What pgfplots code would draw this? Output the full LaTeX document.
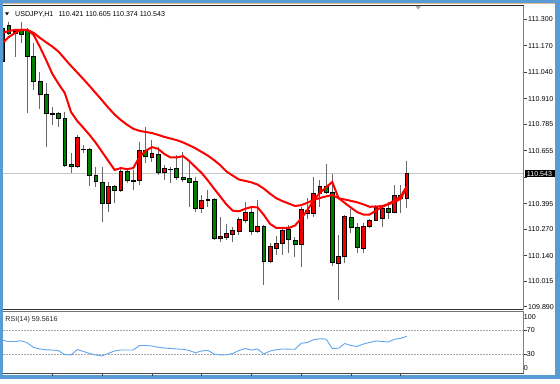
\documentclass[border=0pt]{standalone}
\usepackage{pgfplots}
\usepackage{pgfplotstable}
\pgfplotsset{compat=1.18}
\usepgfplotslibrary{statistics}
\usepackage{fontspec}
\setmainfont{Liberation Sans}
\definecolor{frameblue}{RGB}{91,155,213}
\definecolor{upcol}{RGB}{240,0,0}
\definecolor{dncol}{RGB}{0,128,0}
\definecolor{wick}{RGB}{105,105,105}
\definecolor{malinecol}{RGB}{255,0,0}
\definecolor{rsiblue}{RGB}{95,165,240}
\newcommand{\sz}{\fontsize{7.1bp}{8bp}\selectfont}

% USDJPY H1 candles: index, open, high, low, close
\pgfplotstableread{
i O H L C
0 111.092 111.257 111.090 111.256
1 111.272 111.289 111.223 111.233
2 111.243 111.250 111.116 111.233
3 111.247 111.288 111.182 111.228
4 111.247 111.255 110.839 111.120
5 111.120 111.182 110.953 110.994
6 110.994 111.043 110.858 110.933
7 110.933 110.989 110.672 110.839
8 110.838 110.871 110.781 110.835
9 110.839 110.847 110.773 110.814
10 110.814 110.847 110.577 110.585
11 110.590 110.642 110.547 110.577
12 110.577 110.732 110.569 110.721
13 110.664 110.683 110.642 110.661
14 110.662 110.667 110.482 110.536
15 110.533 110.577 110.479 110.503
16 110.498 110.577 110.307 110.397
17 110.397 110.503 110.356 110.479
18 110.479 110.487 110.397 110.462
19 110.462 110.577 110.454 110.556
20 110.556 110.564 110.495 110.508
21 110.509 110.561 110.462 110.507
22 110.511 110.699 110.487 110.655
23 110.659 110.773 110.593 110.626
24 110.623 110.708 110.601 110.642
25 110.639 110.675 110.536 110.547
26 110.547 110.585 110.511 110.569
27 110.565 110.577 110.495 110.563
28 110.569 110.634 110.511 110.525
29 110.525 110.650 110.503 110.515
30 110.518 110.610 110.380 110.502
31 110.503 110.528 110.356 110.373
32 110.373 110.438 110.351 110.410
33 110.411 110.462 110.380 110.417
34 110.418 110.422 110.217 110.225
35 110.225 110.328 110.209 110.237
36 110.230 110.296 110.217 110.250
37 110.246 110.282 110.209 110.263
38 110.258 110.331 110.242 110.320
39 110.312 110.405 110.299 110.351
40 110.353 110.384 110.242 110.258
41 110.258 110.413 110.255 110.286
42 110.286 110.291 109.996 110.111
43 110.111 110.201 110.103 110.184
44 110.176 110.237 110.143 110.201
45 110.201 110.282 110.143 110.263
46 110.270 110.291 110.152 110.220
47 110.213 110.233 110.135 110.197
48 110.197 110.380 110.086 110.368
49 110.348 110.422 110.319 110.364
50 110.348 110.525 110.331 110.446
51 110.446 110.511 110.380 110.482
52 110.482 110.590 110.446 110.449
53 110.449 110.541 110.091 110.108
54 110.103 110.242 109.923 110.135
55 110.135 110.340 110.103 110.331
56 110.328 110.368 110.250 110.279
57 110.279 110.299 110.152 110.181
58 110.176 110.302 110.155 110.286
59 110.286 110.319 110.274 110.312
60 110.315 110.389 110.312 110.380
61 110.324 110.384 110.282 110.373
62 110.371 110.405 110.319 110.354
63 110.351 110.487 110.351 110.438
64 110.438 110.487 110.348 110.422
65 110.421 110.605 110.374 110.543
}\candles

% moving averages
\pgfplotstableread{
i fast slow
0 111.184 111.233
1 111.213 111.243
2 111.233 111.248
3 111.248 111.248
4 111.248 111.248
5 111.223 111.233
6 111.164 111.209
7 111.100 111.187
8 111.032 111.166
9 110.983 111.141
10 110.938 111.106
11 110.845 111.071
12 110.801 111.039
13 110.767 111.006
14 110.732 110.972
15 110.693 110.937
16 110.649 110.902
17 110.605 110.866
18 110.561 110.833
19 110.570 110.806
20 110.565 110.783
21 110.570 110.763
22 110.624 110.753
23 110.654 110.747
24 110.673 110.742
25 110.664 110.733
26 110.639 110.723
27 110.622 110.715
28 110.622 110.707
29 110.629 110.696
30 110.605 110.682
31 110.575 110.667
32 110.546 110.649
33 110.509 110.631
34 110.469 110.609
35 110.430 110.584
36 110.391 110.553
37 110.361 110.533
38 110.358 110.514
39 110.370 110.507
40 110.379 110.500
41 110.377 110.489
42 110.340 110.469
43 110.296 110.444
44 110.276 110.422
45 110.276 110.408
46 110.276 110.396
47 110.288 110.384
48 110.323 110.388
49 110.364 110.400
50 110.413 110.414
51 110.447 110.423
52 110.476 110.431
53 110.502 110.438
54 110.423 110.422
55 110.399 110.416
56 110.376 110.409
57 110.354 110.402
58 110.342 110.392
59 110.342 110.380
60 110.361 110.381
61 110.379 110.384
62 110.394 110.392
63 110.411 110.403
64 110.431 110.419
65 110.482 110.477
}\mas

% RSI(14)
\pgfplotstableread{
i r
0 53.0
1 51.0
2 51.0
3 52.3
4 48.6
5 41.2
6 38.7
7 37.4
8 37.0
9 35.9
10 29.6
11 28.8
12 37.9
13 34.6
14 31.3
15 28.8
16 27.2
17 31.6
18 35.4
19 37.0
20 37.0
21 37.0
22 44.4
23 44.4
24 43.6
25 41.6
26 40.3
27 39.5
28 38.7
29 38.2
30 36.2
31 32.6
32 35.4
33 36.5
34 30.5
35 28.8
36 29.3
37 31.3
38 36.2
39 39.5
40 37.0
41 38.7
42 30.5
43 35.4
44 37.5
45 38.7
46 38.4
47 38.2
48 48.1
49 49.4
50 54.0
51 55.5
52 55.1
53 39.5
54 40.0
55 47.7
56 44.4
57 42.8
58 46.9
59 49.4
60 51.9
61 51.0
62 50.2
63 54.7
64 56.3
65 59.56
}\rsidata

\begin{document}
\begin{tikzpicture}[x=1bp,y=1bp]
\fill[frameblue] (0,0) rectangle (560,379);
\fill[white] (2.7,4) rectangle (555,375.5);
\draw[line width=0.6bp, color={rgb,255:red,214;green,190;blue,150}] (2.7,375.2) -- (555,375.2);

% ---------- main price panel ----------
\begin{axis}[
  at={(3bp,69.5bp)}, anchor=south west, scale only axis,
  width=520.5bp, height=303.8bp,
  xmin=0.064, xmax=83.746, ymin=109.8761, ymax=111.3667,
  enlargelimits=false,
  axis line style={draw=none},
  clip mode=individual,
  xtick=\empty,
  ytick={109.890,110.015,110.140,110.270,110.395,110.525,110.655,110.785,110.910,111.040,111.170,111.300},
  yticklabels={109.890,110.015,110.140,110.270,110.395,{},110.655,110.785,110.910,111.040,111.170,111.300},
  ytick pos=right, yticklabel pos=right,
  tick align=outside, major tick length=3bp,
  tick style={draw=black!75, line width=0.6bp},
  yticklabel style={font=\sz, anchor=west, inner sep=0pt, xshift=1.5bp},
  boxplot/draw direction=y,
]
\addplot[color=black!22, line width=0.7bp, forget plot] coordinates {(0.064,110.543) (83.746,110.543)};
\pgfplotsforeachungrouped \k in {0,...,65}{%
  \pgfplotstablegetelem{\k}{O}\of\candles \let\vO=\pgfplotsretval
  \pgfplotstablegetelem{\k}{H}\of\candles \let\vH=\pgfplotsretval
  \pgfplotstablegetelem{\k}{L}\of\candles \let\vL=\pgfplotsretval
  \pgfplotstablegetelem{\k}{C}\of\candles \let\vC=\pgfplotsretval
  \ifdim\vO pt<\vC pt
    \def\cc{upcol}\let\vlo=\vO \let\vhi=\vC
  \else
    \def\cc{dncol}\let\vlo=\vC \let\vhi=\vO
  \fi
  \edef\temp{\noexpand\addplot[forget plot, draw=black, line width=0.7bp, fill=\cc,
     boxplot prepared={draw position=\k, lower whisker=\vL, lower quartile=\vlo,
       median=\vlo, upper quartile=\vhi, upper whisker=\vH,
       box extend=0.62, whisker extend=0,
       every whisker/.style={draw=wick, line width=1bp}}] coordinates {};}%
  \temp
}
\addplot[malinecol, line width=2bp, forget plot] table[x=i, y=slow] {\mas};
\addplot[malinecol, line width=2bp, forget plot] table[x=i, y=fast] {\mas};
\draw[black!85, line width=1bp] (rel axis cs:0,1) -- (rel axis cs:1,1);
\draw[black!80, line width=1.2bp] (rel axis cs:0,0) -- (rel axis cs:1,0);
\draw[black!50, line width=1bp] (rel axis cs:1,0) -- (rel axis cs:1,1);
\coordinate (cp) at (axis cs:83.746,110.543);
\end{axis}

% ---------- RSI panel ----------
\begin{axis}[
  at={(3bp,5.7bp)}, anchor=south west, scale only axis,
  width=520.5bp, height=62.3bp,
  xmin=0.064, xmax=83.746, ymin=-1.3, ymax=101.2,
  enlargelimits=false,
  axis line style={draw=none},
  clip mode=individual,
  xtick={8,16,...,64}, xticklabels={}, xtick pos=bottom,
  ytick={30,70}, yticklabels={30,70},
  ytick pos=right, yticklabel pos=right,
  tick align=outside, major tick length=3bp,
  tick style={draw=black!75, line width=0.6bp},
  yticklabel style={font=\sz, anchor=west, inner sep=0pt, xshift=0.2bp},
  ymajorgrids,
  grid style={dash pattern=on 1.5bp off 1.5bp, black!35, line width=0.5bp},
  extra y ticks={7.9,91.9}, extra y tick labels={0,100},
  extra y tick style={grid=none, major tick length=0pt},
]
\addplot[rsiblue, line width=0.9bp, forget plot] table[x=i, y=r] {\rsidata};
\draw[black!55, line width=0.8bp] (rel axis cs:0,1) -- (rel axis cs:1,1);
\draw[black!70, line width=1bp] (rel axis cs:0,0) -- (rel axis cs:1,0);
\draw[black!50, line width=1bp] (rel axis cs:1,0) -- (rel axis cs:1,1);
\end{axis}

% current price box
\node[fill=black, text=white, font=\sz, inner sep=0pt, minimum width=30bp,
      minimum height=7.2bp, anchor=west] at ([xshift=0.8bp]cp) {110.543};
% titles
\fill[black] (5,366.7) -- (9,366.7) -- (7,363.7) -- cycle;
\node[anchor=base west, inner sep=0pt, font=\sz] at (15,362.4) {USDJPY,H1};
\node[anchor=base west, inner sep=0pt, font=\sz] at (58.3,362.4) {110.421 110.605 110.374 110.543};
\node[anchor=base west, inner sep=0pt, font=\sz, text=black!85] at (5.3,58) {RSI(14) 59.5616};
% chart shift marker
\fill[black!35] (415.5,373) -- (421,373) -- (418.2,369.5) -- cycle;
\end{tikzpicture}
\end{document}
